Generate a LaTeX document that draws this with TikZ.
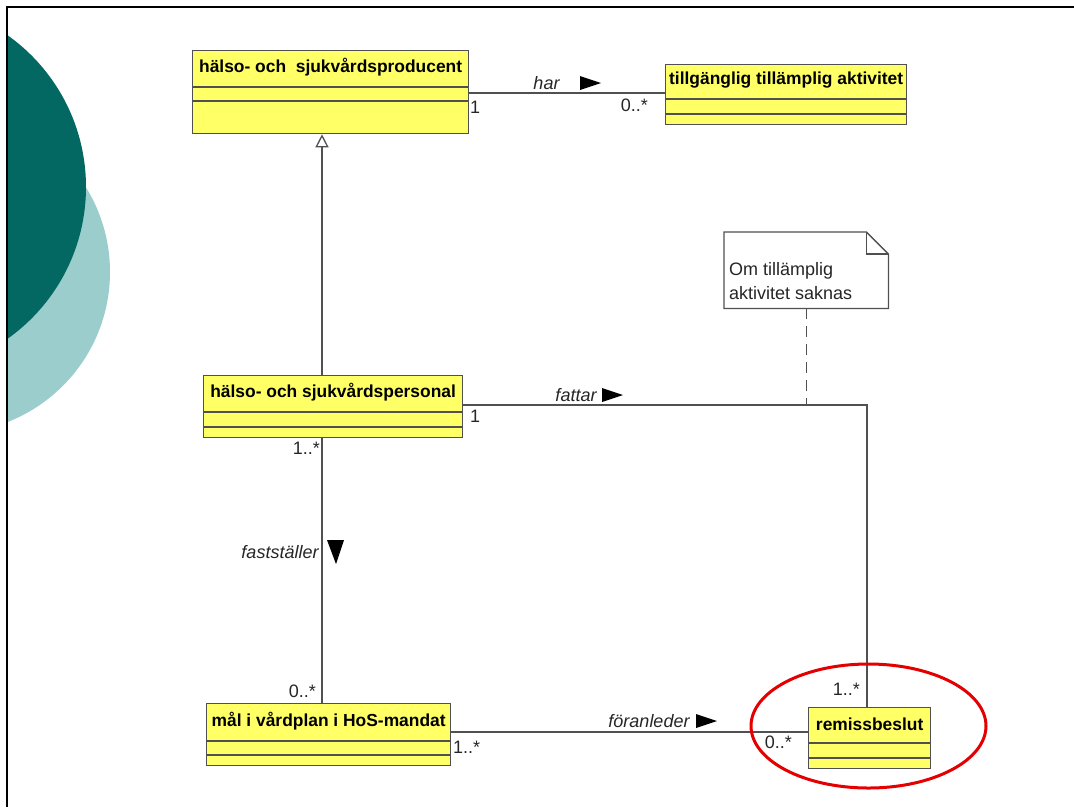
\documentclass[tikz,border=0pt]{standalone}
\usepackage{fontspec}
\setmainfont{Liberation Sans}
\usetikzlibrary{arrows.meta,calc}

\definecolor{classfill}{RGB}{255,255,102}
\definecolor{edge}{RGB}{80,80,80}
\definecolor{tealdark}{RGB}{3,103,98}
\definecolor{teallight}{RGB}{156,205,205}
\definecolor{markred}{RGB}{228,0,0}

\tikzset{
  classbox/.style={draw=edge, fill=classfill, line width=1.3pt, anchor=north west, inner sep=0pt},
  divider/.style={draw=edge, line width=1.3pt},
  classname/.style={font=\fontsize{17.4}{20}\selectfont\bfseries, text=black, inner sep=0pt},
  assoc/.style={draw=edge, line width=1.3pt},
  rolelabel/.style={font=\fontsize{18}{20}\selectfont\itshape, text=black!85, inner sep=0pt},
  mult/.style={font=\fontsize{18}{20}\selectfont, text=black!85, inner sep=0pt},
  dirmark/.style={fill=black},
  notetext/.style={font=\fontsize{18}{21}\selectfont, text=black!85, inner sep=0pt, anchor=west},
}

% UML class: name, x, y, width, height, first divider, second divider, title
\newcommand{\umlclass}[8]{%
  \node[classbox, minimum width=#4pt, minimum height=#5pt] (#1) at (#2,#3) {};
  \draw[divider] ($(#1.north west)+(0,#6)$) -- ($(#1.north east)+(0,#6)$);
  \draw[divider] ($(#1.north west)+(0,#7)$) -- ($(#1.north east)+(0,#7)$);
  \node[classname] (#1-name) at ($(#1.north)+(0,#6/2-1)$) {#8};
}

\begin{document}
\begin{tikzpicture}[x=1pt, y=-1pt]
  \useasboundingbox (0,0) rectangle (1074,807);

  % slide decoration
  \begin{scope}
    \clip (7,7) rectangle (1074,807);
    \fill[teallight] (-51,272) circle[radius=161pt];
    \fill[tealdark] (-100,187) circle[radius=186pt];
  \end{scope}
  \draw[black, line width=2pt] (7,807) -- (7,7) -- (1074,7);

  % classes
  \umlclass{A}{192}{50}{276}{83}{37}{51}{hälso- och~ sjukvårdsproducent}
  \umlclass{B}{665}{64}{241}{60}{35}{50}{tillgänglig tillämplig aktivitet}
  \umlclass{C}{203}{375}{259}{62}{37}{52}{hälso- och sjukvårdspersonal}
  \umlclass{D}{206}{703}{244}{62}{38}{52}{mål i vårdplan i HoS-mandat}
  \umlclass{E}{808}{707}{122}{61}{36}{51}{remissbeslut}

  % note
  \node[minimum width=164pt, minimum height=76pt, anchor=north west, inner sep=0pt] (N) at (724,232) {};
  \draw[edge, fill=white, line width=1.3pt]
    (N.north west) -- ($(N.north east)+(-22,0)$) -- ($(N.north east)+(0,22)$)
    -- (N.south east) -- (N.south west) -- cycle;
  \draw[edge, line width=1.3pt]
    ($(N.north east)+(-22,0)$) -- ($(N.north east)+(-22,22)$) -- ($(N.north east)+(0,22)$);
  \node[notetext] (N-l1) at (729,271) {Om tillämplig};
  \node[notetext] (N-l2) at (729,293) {aktivitet saknas};

  % associations
  \draw[assoc] (A.east |- 0,93) -- (B.west |- 0,93);
  \coordinate (turn) at (867,405);
  \coordinate (notehit) at (N.south |- turn);
  \draw[assoc] (C.east |- turn) -- (turn) -- (E.north -| turn);
  \draw[assoc] (C.south -| 322,0) -- (D.north -| 322,0);
  \draw[assoc] (D.east |- 0,732) -- (E.west |- 0,732);

  % generalization
  \draw[assoc, -{Triangle[open, length=13pt, width=13pt]}] (C.north -| 322,0) -- (A.south -| 322,0);

  % note anchor
  \draw[edge, line width=1.3pt, dash pattern=on 11pt off 7pt] (N.south) -- (notehit);

  % role names with reading direction
  \node[rolelabel] (har) at (546.5,83) {har};
  \fill[dirmark] (580,76) -- (601,83) -- (580,90) -- cycle;
  \node[rolelabel] (fattar) at (576,395) {fattar};
  \fill[dirmark] (602,388) -- (623,395) -- (602,402) -- cycle;
  \node[rolelabel] (faststaller) at (280,552) {fastställer};
  \fill[dirmark] (327,540) -- (344,540) -- (336,564) -- cycle;
  \node[rolelabel] (foranleder) at (649,721) {föranleder};
  \fill[dirmark] (696,714) -- (717,721) -- (696,728) -- cycle;

  % multiplicities
  \node[mult, anchor=west] (mA) at (470,107) {1};
  \node[mult, anchor=east] (mB) at (648,105) {0..*};
  \node[mult, anchor=west] (mC) at (470,416) {1};
  \node[mult, anchor=east] (mC2) at (320,448) {1..*};
  \node[mult, anchor=east] (mD) at (316,691) {0..*};
  \node[mult, anchor=west] (mD2) at (453,747) {1..*};
  \node[mult, anchor=east] (mE) at (792,742) {0..*};
  \node[mult, anchor=east] (mE2) at (860,689) {1..*};

  % highlight
  \draw[markred, line width=3pt] (868.5,726) ellipse[x radius=117.5pt, y radius=62pt];
\end{tikzpicture}
\end{document}
